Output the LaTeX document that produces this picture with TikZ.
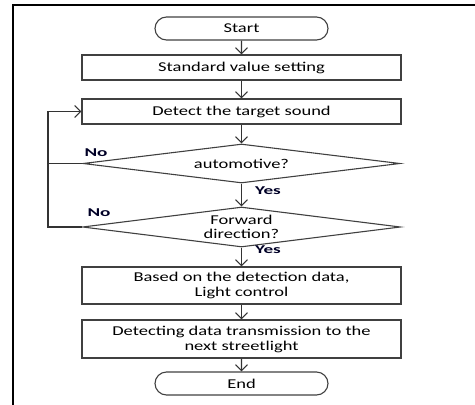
\documentclass[tikz,border=0pt]{standalone}
\usepackage{fontspec}
\setmainfont{Carlito}[FakeStretch=1.37]
\newfontfamily\branchfont{Carlito}[FakeStretch=1.6]
\usetikzlibrary{shapes.geometric,shapes.misc,arrows.meta}

\tikzset{
  flowbox/.style={draw=black!75, line width=1.1pt, rectangle, minimum width=319pt, inner sep=0pt, align=center, font=\fontsize{13.5}{15}\selectfont},
  terminal/.style={draw=black!75, line width=1.1pt, rounded rectangle, minimum width=173pt, minimum height=23pt, inner sep=0pt, font=\fontsize{13.5}{15}\selectfont},
  decision/.style={draw=black!75, line width=1.1pt, diamond, shape aspect=8, inner sep=0pt, align=center, font=\fontsize{13.5}{14}\selectfont},
  flow/.style={draw=black!80, line width=1.1pt, -{Straight Barb[length=6pt,width=12pt,line width=1.1pt]}},
  branch/.style={text=black!85!blue, font=\branchfont\bfseries\fontsize{12}{13}\selectfont},
}

\begin{document}
\begin{tikzpicture}[x=1pt,y=-1pt]
  \useasboundingbox (0,0) rectangle (475,405);
  % frame of the cell
  \draw[line width=1.3pt] (13,405) -- (13,5) -- (475,5);

  \node[terminal] (start) at (241.5,28.5) {Start};
  \node[flowbox, minimum height=25pt] (setting) at (241.5,67.5) {Standard value setting};
  \node[flowbox, minimum height=25pt] (detect) at (241.5,111.5) {Detect the target sound};
  \node[decision, minimum width=317pt, minimum height=39pt] (auto) at (241.5,163.5) {automotive?};
  \node[decision, minimum width=318pt, minimum height=40pt] (fwd) at (241.5,227) {Forward\\direction?};
  \node[flowbox, minimum height=37pt] (light) at (241.5,285.5) {Based on the detection data,\\Light control};
  \node[flowbox, minimum height=38pt] (send) at (241.5,339) {Detecting data transmission to the\\next streetlight};
  \node[terminal] (end) at (241.5,383.5) {End};

  \coordinate (noA) at (48,163.5);
  \coordinate (noB) at (48,227);

  \draw[flow] (start) -- (setting);
  \draw[flow] (setting) -- (detect);
  \draw[flow] (detect) -- (auto);
  \draw[flow] (auto) -- (fwd);
  \draw[flow] (fwd) -- (light);
  \draw[flow] (light) -- (send);
  \draw[flow] (send) -- (end);

  % the two No branches back to detection
  \draw[draw=black!80, line width=1.1pt] (auto.west) -- (noA);
  \draw[flow] (fwd.west) -- (noB) |- (detect.west);

  \node[branch] (no1) at (96,153) {No};
  \node[branch] (no2) at (99,213) {No};
  \node[branch] (yes1) at (268,191) {Yes};
  \node[branch] (yes2) at (268,249.5) {Yes};
\end{tikzpicture}
\end{document}
